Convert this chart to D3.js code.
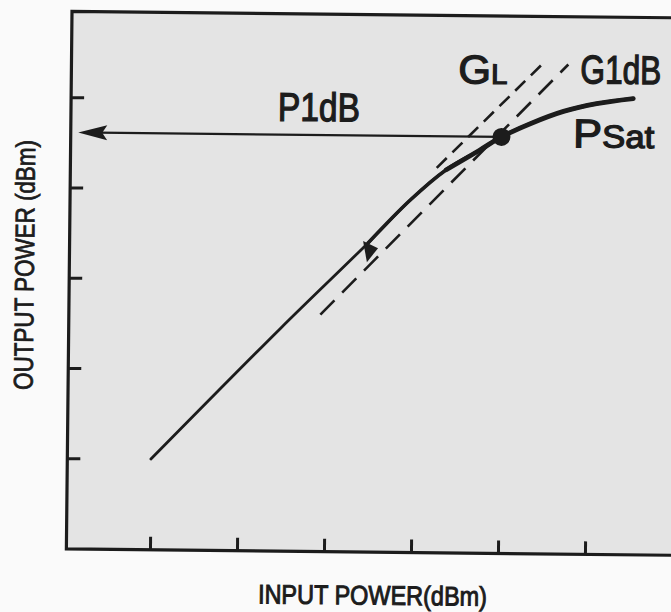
<!DOCTYPE html>
<html>
<head>
<meta charset="utf-8">
<script src="https://cdnjs.cloudflare.com/ajax/libs/d3/7.8.5/d3.min.js"></script>
<style>
  html, body { margin: 0; padding: 0; background: #fff; }
  svg { display: block; }
  text { font-family: "Liberation Sans", Arial, sans-serif; fill: #1c1c1c; }
</style>
</head>
<body>
<div id="chart"></div>
<script>
// transfer curve, in tick units (no numbers on the axes)
const inPower  = [1.00, 2.47, 3.47, 3.95, 4.36, 4.74, 4.99, 5.32, 5.70, 6.08, 6.50];
const outPower = [1.00, 2.46, 3.42, 3.90, 4.24, 4.46, 4.61, 4.76, 4.90, 4.99, 5.05];

// dashed gain lines
const glIn   = [4.25, 5.46];
const glOut  = [4.26, 5.43];
const g1dbIn  = [2.93, 5.75];
const g1dbOut = [2.62, 5.42];

// 1 dB compression point and the arrow to the output axis
const p1dbIn = 4.99;
const p1dbOut = 4.61;
const arrowTipIn = 0.125;

// small arrow mark on the linear part
const markIn = 3.47;
const markOut = 3.34;

const xTicks = [1, 2, 3, 4, 5, 6];
const yTicks = [1, 2, 3, 4, 5];

/* chart sizes */
const width = 671;
const height = 612;
const frame = {left: 69, top: 14.5, bottom: 552};
const ink = "#1c1c1c";

const x = d3.scaleLinear().domain([0, 7]).range([65.6, 674.6]);
const y = d3.scaleLinear().domain([0, 5.95]).range([551.5, 14.5]);

const svg = d3.select("#chart")
              .append("svg")
              .attr("width", width)
              .attr("height", height);
svg.append("rect")
   .attr("width", width)
   .attr("height", height)
   .attr("fill", "#fafafa");

// the scan is a little rotated
const g = svg.append("g").attr("transform", "rotate(0.6, 360, 300)");

/* plot area + frame (right side runs off the picture) */
g.append("rect")
 .attr("x", frame.left)
 .attr("y", frame.top)
 .attr("width", width + 40 - frame.left)
 .attr("height", frame.bottom - frame.top)
 .attr("fill", "#e4e4e4");
g.append("path")
 .attr("d", `M${width + 40},${frame.top}H${frame.left}V${frame.bottom}H${width + 40}`)
 .attr("fill", "none")
 .attr("stroke", ink)
 .attr("stroke-width", 3.2);

/* ticks, pointing inwards, no labels */
g.append("g")
 .attr("transform", `translate(0,${frame.bottom})`)
 .call(d3.axisBottom(x).tickValues(xTicks).tickSize(-13).tickFormat(""))
 .call(a => a.select(".domain").remove())
 .selectAll("line")
 .attr("stroke", ink)
 .attr("stroke-width", 3);
g.append("g")
 .attr("transform", `translate(${frame.left},0)`)
 .call(d3.axisLeft(y).tickValues(yTicks).tickSize(-13).tickFormat(""))
 .call(a => a.select(".domain").remove())
 .selectAll("line")
 .attr("stroke", ink)
 .attr("stroke-width", 3);

/* dashed lines GL and G1dB */
const line = d3.line()
               .x(d => x(d[0]))
               .y(d => y(d[1]));
g.append("path")
 .attr("d", line(glIn.map((d, i) => [d, glOut[i]])))
 .attr("fill", "none")
 .attr("stroke", ink)
 .attr("stroke-width", 2.6)
 .attr("stroke-dasharray", "14,8");
g.append("path")
 .attr("d", line(g1dbIn.map((d, i) => [d, g1dbOut[i]])))
 .attr("fill", "none")
 .attr("stroke", ink)
 .attr("stroke-width", 2.6)
 .attr("stroke-dasharray", "20,11");

/* the transfer curve: thin at first, heavier where it bends */
const curve = d3.line()
                .x(d => x(d[0]))
                .y(d => y(d[1]))
                .curve(d3.curveCatmullRom.alpha(0.5));
const pts = inPower.map((d, i) => [d, outPower[i]]);
g.append("path")
 .attr("d", curve(pts))
 .attr("fill", "none")
 .attr("stroke", ink)
 .attr("stroke-width", 2.8)
 .attr("stroke-linecap", "round");
g.append("path")
 .attr("d", curve(pts.slice(2)))
 .attr("fill", "none")
 .attr("stroke", ink)
 .attr("stroke-width", 3.6)
 .attr("stroke-linecap", "round");
g.append("path")
 .attr("d", curve(pts.slice(4)))
 .attr("fill", "none")
 .attr("stroke", ink)
 .attr("stroke-width", 4.8)
 .attr("stroke-linecap", "round");

/* P1dB arrow to the output axis */
const ay = y(p1dbOut);
const tip = x(arrowTipIn);
g.append("line")
 .attr("x1", x(p1dbIn))
 .attr("x2", tip + 20)
 .attr("y1", ay)
 .attr("y2", ay)
 .attr("stroke", ink)
 .attr("stroke-width", 2.3);
g.append("path")
 .attr("d", `M${tip},${ay}L${tip + 29},${ay - 7.5}L${tip + 24},${ay}L${tip + 29},${ay + 7.5}Z`)
 .attr("fill", ink);

/* compression point */
g.append("circle")
 .attr("cx", x(p1dbIn))
 .attr("cy", y(p1dbOut))
 .attr("r", 9)
 .attr("fill", ink);

/* little arrow mark on the linear part */
const mx = x(markIn), my = y(markOut);
g.append("path")
 .attr("d", `M${mx - 5},${my - 9}L${mx + 10},${my - 2}L${mx - 1},${my + 12}Z`)
 .attr("fill", ink);

/* labels: narrow lettering, squeezed with a scale so the box stays honest */
function label(xp, yp, parts, len) {
  let t = g.append("text")
           .attr("stroke", ink)
           .attr("stroke-width", 1.3);
  t.selectAll("tspan")
   .data(parts)
   .enter().append("tspan")
   .attr("font-size", d => d[1])
   .text(d => d[0]);
  let w = t.node().getComputedTextLength();
  t.attr("transform", `translate(${xp},${yp}) scale(${len / w},1)`);
}
label(276, 121.5, [["P1dB", 40]], 82);
label(456, 82.3, [["G", 40], ["L", 28]], 49);
label(578, 81, [["G1dB", 40]], 81);
label(571.5, 145, [["P", 40], ["Sat", 32]], 81);

/* axis titles */
g.append("text")
 .attr("x", 375.6)
 .attr("y", 604.5)
 .attr("text-anchor", "middle")
 .attr("font-size", 27)
 .attr("stroke", ink)
 .attr("stroke-width", 1)
 .attr("textLength", 229)
 .attr("lengthAdjust", "spacingAndGlyphs")
 .text("INPUT POWER(dBm)");
g.append("text")
 .attr("transform", "translate(33.5,268.5) rotate(-90)")
 .attr("text-anchor", "middle")
 .attr("font-size", 27)
 .attr("stroke", ink)
 .attr("stroke-width", 0.8)
 .attr("textLength", 250)
 .attr("lengthAdjust", "spacingAndGlyphs")
 .text("OUTPUT POWER (dBm)");
</script>
</body>
</html>
